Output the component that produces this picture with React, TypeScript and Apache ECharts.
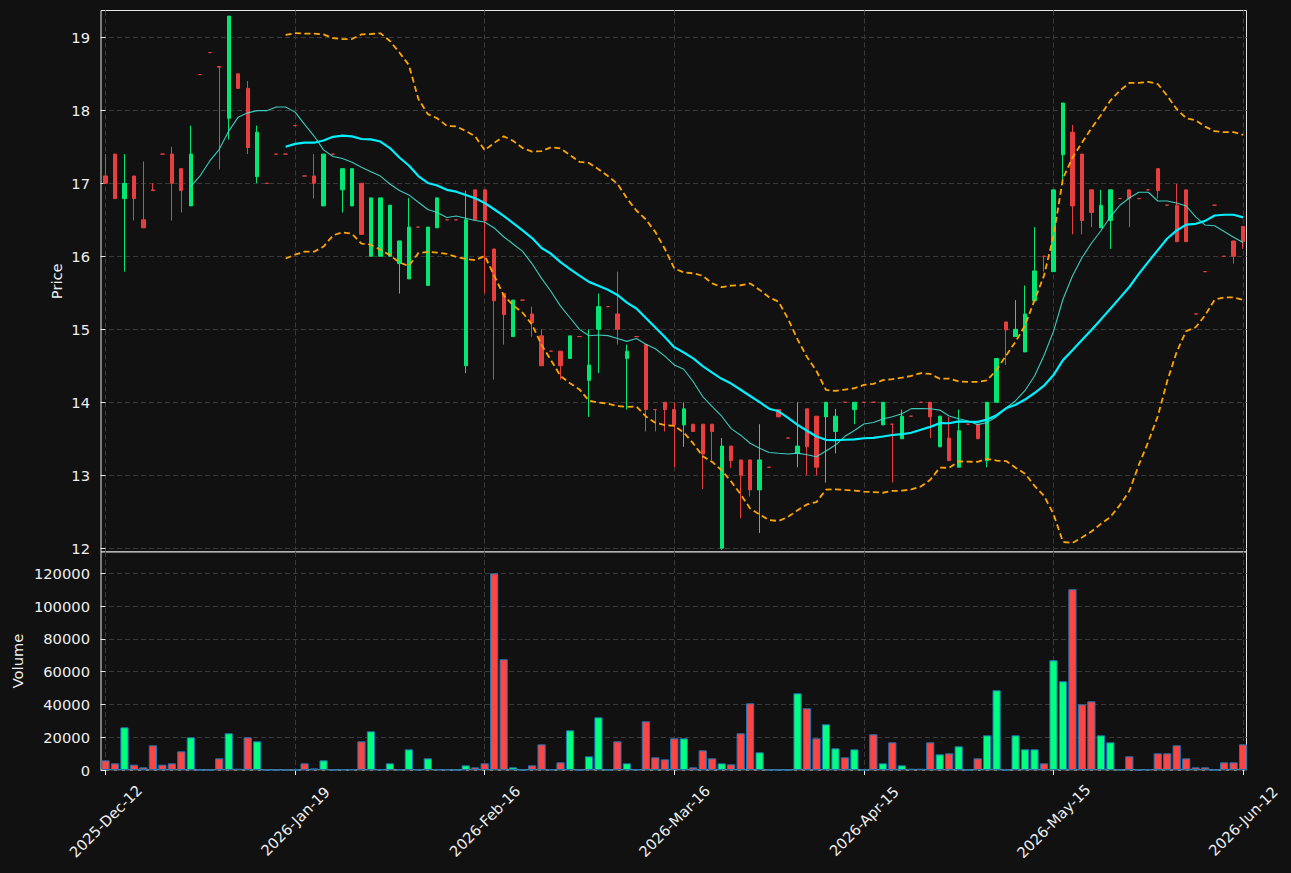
import React, { useEffect, useRef } from "react";
import * as echarts from "echarts";

// ---- data ----
const tickIndices = [0, 20, 40, 60, 80, 100, 120];
const tickLabels = ["2025-Dec-12", "2026-Jan-19", "2026-Feb-16", "2026-Mar-16", "2026-Apr-15", "2026-May-15", "2026-Jun-12"];
const priceTicks = [12, 13, 14, 15, 16, 17, 18, 19];
const volumeTicks = [0, 20000, 40000, 60000, 80000, 100000, 120000];

const opens = [
  17.10, 17.40, 16.79, 17.10, 16.50, 16.91, 17.40, 17.40, 17.20, 16.69,
  18.49, 18.79, 18.60, 17.89, 18.50, 18.30, 17.09, 17.00, 17.40, 17.40,
  17.79, 17.10, 17.10, 16.69, 17.40, 16.91, 16.69, 17.00, 16.00, 16.00,
  16.00, 15.90, 15.69, 16.40, 15.60, 16.39, 16.50, 16.50, 14.50, 16.91,
  16.91, 16.10, 15.49, 14.90, 15.40, 15.21, 14.91, 14.70, 14.70, 14.60,
  14.90, 14.30, 15.00, 15.31, 15.21, 14.60, 14.90, 14.79, 13.90, 14.00,
  13.90, 13.69, 13.70, 13.70, 13.70, 12.00, 13.40, 13.21, 13.21, 12.80,
  13.11, 13.90, 13.51, 13.30, 13.91, 13.81, 13.80, 13.60, 14.00, 13.90,
  14.00, 14.00, 13.69, 13.70, 13.50, 13.81, 14.00, 14.00, 13.39, 13.51,
  13.11, 13.70, 13.70, 13.20, 14.00, 15.10, 14.90, 14.69, 15.39, 16.00,
  15.79, 17.39, 17.70, 17.40, 16.91, 16.39, 16.49, 16.79, 16.91, 16.79,
  16.91, 17.20, 16.70, 16.70, 16.91, 15.21, 15.79, 16.70, 16.00, 16.21,
  16.41,
];
const closes = [
  17.00, 16.79, 17.00, 16.79, 16.39, 16.90, 17.40, 17.00, 16.90, 17.40,
  18.49, 18.79, 18.59, 19.29, 18.30, 17.49, 17.70, 17.00, 17.40, 17.40,
  17.79, 17.10, 17.00, 17.40, 17.40, 17.20, 17.20, 16.30, 16.80, 16.80,
  16.70, 16.21, 16.40, 16.40, 16.40, 16.80, 16.50, 16.50, 16.50, 16.50,
  16.49, 15.39, 15.20, 15.40, 15.40, 15.09, 14.50, 14.70, 14.50, 14.91,
  14.90, 14.51, 15.31, 15.31, 15.00, 14.70, 14.90, 13.90, 13.90, 13.90,
  13.69, 13.91, 13.60, 13.29, 13.60, 13.40, 13.20, 13.00, 12.80, 13.21,
  13.11, 13.80, 13.51, 13.40, 13.39, 13.11, 14.00, 13.81, 14.00, 14.00,
  14.00, 14.00, 14.00, 13.70, 13.81, 13.81, 14.00, 13.80, 13.81, 13.20,
  13.61, 13.70, 13.50, 14.00, 14.60, 14.99, 15.00, 15.21, 15.80, 16.00,
  16.91, 18.10, 16.69, 16.49, 16.60, 16.70, 16.91, 16.79, 16.79, 16.79,
  16.91, 16.90, 16.70, 16.20, 16.20, 15.21, 15.79, 16.70, 16.00, 16.00,
  16.20,
];
const lows = [
  17.00, 16.79, 15.79, 16.49, 16.39, 16.90, 17.40, 16.49, 16.60, 16.69,
  18.49, 18.79, 17.19, 17.60, 18.30, 17.40, 17.00, 17.00, 17.40, 17.40,
  17.79, 17.10, 16.79, 16.69, 17.40, 16.60, 16.69, 16.30, 16.00, 16.00,
  16.00, 15.49, 15.69, 16.40, 15.60, 16.39, 16.50, 16.50, 14.40, 16.50,
  15.49, 14.31, 14.79, 14.90, 15.40, 14.90, 14.50, 14.70, 14.31, 14.60,
  14.90, 13.80, 14.40, 15.31, 14.79, 13.90, 14.90, 13.60, 13.60, 13.60,
  13.11, 13.39, 13.60, 12.81, 13.21, 11.98, 13.10, 12.41, 12.71, 12.21,
  13.11, 13.80, 13.51, 13.11, 13.00, 13.00, 12.90, 13.30, 14.00, 13.70,
  14.00, 14.00, 13.69, 12.90, 13.50, 13.81, 14.00, 13.51, 13.39, 13.20,
  13.11, 13.70, 13.50, 13.11, 14.00, 14.51, 14.90, 14.69, 15.39, 15.79,
  15.79, 17.02, 16.30, 16.30, 16.40, 16.39, 16.10, 16.79, 16.40, 16.79,
  16.91, 16.79, 16.70, 16.20, 16.20, 15.21, 15.79, 16.70, 16.00, 15.90,
  16.10,
];
const highs = [
  17.40, 17.40, 17.40, 17.10, 17.30, 17.00, 17.40, 17.50, 17.20, 17.79,
  18.49, 18.79, 18.60, 19.29, 18.50, 18.40, 17.79, 17.00, 17.40, 17.40,
  17.79, 17.10, 17.40, 17.40, 17.40, 17.20, 17.20, 17.00, 16.80, 16.80,
  16.70, 16.21, 16.80, 16.40, 16.40, 16.80, 16.50, 16.50, 16.90, 16.91,
  16.91, 16.10, 15.49, 15.40, 15.40, 15.31, 15.00, 14.70, 14.70, 14.91,
  14.90, 15.00, 15.49, 15.31, 15.79, 14.79, 14.90, 14.79, 13.90, 14.00,
  14.00, 14.00, 13.70, 13.70, 13.70, 13.51, 13.40, 13.21, 13.21, 13.70,
  13.11, 13.90, 13.51, 14.00, 13.91, 13.81, 14.00, 13.91, 14.00, 14.00,
  14.00, 14.00, 14.00, 13.70, 13.90, 13.81, 14.00, 14.00, 13.81, 13.80,
  13.90, 13.70, 13.70, 14.00, 14.60, 15.10, 15.40, 15.60, 16.40, 16.00,
  16.91, 18.10, 17.80, 17.40, 16.91, 16.91, 16.91, 16.79, 16.91, 16.79,
  16.91, 17.20, 16.70, 16.99, 16.91, 15.21, 15.79, 16.70, 16.00, 16.21,
  16.41,
];
const volumes = [
  5900, 4070, 26050, 3260, 1630, 15060, 3260, 4070, 11400, 19940,
  0, 0, 7120, 22390, 810, 19940, 17500, 0, 0, 0,
  0, 4070, 1000, 5900, 0, 400, 400, 17500, 23600, 400,
  4070, 300, 12600, 200, 7120, 300, 300, 0, 2850, 1630,
  4070, 120000, 67560, 1630, 0, 2850, 15670, 300, 4680, 24220,
  0, 8340, 32150, 0, 17500, 4070, 300, 29710, 7730, 6510,
  19330, 19330, 1630, 12010, 7120, 4070, 3460, 22390, 40700, 10790,
  0, 0, 0, 46800, 37650, 19330, 27880, 13230, 7730, 12620,
  0, 21780, 4070, 16890, 2850, 800, 800, 16890, 9560, 10180,
  14450, 0, 7120, 21160, 48640, 0, 21160, 12620, 12620, 4070,
  66950, 54130, 110300, 40090, 41920, 21160, 16890, 0, 8340, 0,
  400, 10180, 10180, 15060, 7120, 1630, 1630, 0, 4680, 4680,
  15670,
];

// ---- styles ----
const BG = "#111111";
const FG = "#eeeeee";
const FRAME = "#e6e6e6";
const GRIDLINE = "#3a3a3a";
const UP_CANDLE = "#02e774";
const DOWN_CANDLE = "#e73f3f";
const UP_VOL = "#00ff7f";
const DOWN_VOL = "#ff4444";
const VOL_EDGE = "#1f77b4";
const FONT = "DejaVu Sans";
const FONT_SIZE = 14.7;

function sma(vals: number[], n: number): number[][] {
  const out: number[][] = [];
  for (let i = n - 1; i < vals.length; i++) {
    let s = 0;
    for (let k = i - n + 1; k <= i; k++) s += vals[k];
    out.push([i, s / n]);
  }
  return out;
}
function bands(vals: number[], n: number, mult: number): { up: number[][]; lo: number[][] } {
  const up: number[][] = [];
  const lo: number[][] = [];
  for (let i = n - 1; i < vals.length; i++) {
    let s = 0;
    for (let k = i - n + 1; k <= i; k++) s += vals[k];
    const m = s / n;
    let v = 0;
    for (let k = i - n + 1; k <= i; k++) v += (vals[k] - m) * (vals[k] - m);
    const sd = Math.sqrt(v / n);
    up.push([i, m + mult * sd]);
    lo.push([i, m - mult * sd]);
  }
  return { up, lo };
}

export default function App() {
  const ref = useRef<HTMLDivElement>(null);
  useEffect(() => {
    if (!ref.current) return;
    const chart = echarts.init(ref.current, null, { renderer: "svg" });

    const candleData = opens.map((o, i) => {
      const item: any = { value: [i, o, closes[i], lows[i], highs[i]] };
      if (o === closes[i]) {
        item.itemStyle = { color: DOWN_CANDLE, color0: DOWN_CANDLE, borderColor: DOWN_CANDLE, borderColor0: DOWN_CANDLE };
      }
      return item;
    });
    const volData = volumes.map((v, i) => ({
      value: [i, v],
      itemStyle: { color: closes[i] > opens[i] ? UP_VOL : DOWN_VOL },
    }));
    const ma10 = sma(closes, 10);
    const ma20 = sma(closes, 20);
    const bb = bands(closes, 20, 2);

    const xMin = -0.475;
    const xMax = 120.36;
    const splitLine = { show: true, lineStyle: { color: GRIDLINE, type: [5, 3], width: 1 } };
    const labelStyle = { color: FG, fontSize: FONT_SIZE, fontFamily: FONT };

    chart.setOption({
      animation: false,
      backgroundColor: BG,
      textStyle: { fontFamily: FONT },
      grid: [
        { left: 101, top: 10.5, width: 1145.5, height: 541.5, show: true, backgroundColor: BG, borderColor: FRAME, borderWidth: 1 },
        { left: 101, top: 552, width: 1145.5, height: 218, show: true, backgroundColor: BG, borderColor: FRAME, borderWidth: 1 },
      ],
      xAxis: [
        {
          type: "value", gridIndex: 0, min: xMin, max: xMax,
          axisLine: { show: false },
          axisTick: { show: false, customValues: tickIndices },
          axisLabel: { show: false, customValues: tickIndices },
          splitLine,
        },
        {
          type: "value", gridIndex: 1, min: xMin, max: xMax,
          axisLine: { show: false },
          axisTick: { show: true, customValues: tickIndices, length: 5, lineStyle: { color: FRAME } },
          axisLabel: {
            ...labelStyle, customValues: tickIndices, rotate: 45, margin: 51,
            align: "center", verticalAlign: "middle",
            formatter: (v: number) => tickLabels[tickIndices.indexOf(Math.round(v))] ?? "",
          },
          splitLine,
        },
      ],
      yAxis: [
        {
          type: "value", gridIndex: 0, min: 11.949, max: 19.367,
          name: "Price", nameLocation: "middle", nameGap: 37, nameMoveOverlap: false,
          nameTextStyle: { ...labelStyle },
          axisLine: { show: false },
          axisTick: { show: true, customValues: priceTicks, length: 5, lineStyle: { color: FRAME } },
          axisLabel: { ...labelStyle, customValues: priceTicks, margin: 11, formatter: (v: number) => String(v) },
          splitLine,
        },
        {
          type: "value", gridIndex: 1, min: 0, max: 133000,
          name: "Volume", nameLocation: "middle", nameGap: 76.5, nameMoveOverlap: false,
          nameTextStyle: { ...labelStyle },
          axisLine: { show: false },
          axisTick: { show: true, customValues: volumeTicks, length: 5, lineStyle: { color: FRAME } },
          axisLabel: { ...labelStyle, customValues: volumeTicks, margin: 11, formatter: (v: number) => String(v) },
          splitLine,
        },
      ],
      series: [
        {
          type: "candlestick", xAxisIndex: 0, yAxisIndex: 0,
          data: candleData,
          encode: { x: 0, y: [1, 2, 3, 4] },
          barWidth: 3.8,
          itemStyle: { color: UP_CANDLE, color0: DOWN_CANDLE, borderColor: UP_CANDLE, borderColor0: DOWN_CANDLE, borderWidth: 1 },
          z: 2,
        },
        {
          type: "line", xAxisIndex: 0, yAxisIndex: 0, data: ma10, showSymbol: false, symbol: "none",
          lineStyle: { color: "#40e0d0", width: 1.1, opacity: 0.9 }, z: 3,
        },
        {
          type: "line", xAxisIndex: 0, yAxisIndex: 0, data: ma20, showSymbol: false, symbol: "none",
          lineStyle: { color: "#00f0ff", width: 2.2 }, z: 4,
        },
        {
          type: "line", xAxisIndex: 0, yAxisIndex: 0, data: bb.up, showSymbol: false, symbol: "none",
          lineStyle: { color: "#ffa500", width: 1.8, type: [6, 3.5] }, z: 4,
        },
        {
          type: "line", xAxisIndex: 0, yAxisIndex: 0, data: bb.lo, showSymbol: false, symbol: "none",
          lineStyle: { color: "#ffa500", width: 1.8, type: [6, 3.5] }, z: 4,
        },
        {
          type: "bar", xAxisIndex: 1, yAxisIndex: 1, data: volData, barWidth: 8.2,
          itemStyle: { borderColor: VOL_EDGE, borderWidth: 1 },
        },
      ],
    });
    return () => chart.dispose();
  }, []);
  return (
    <div
      ref={ref}
      style={{ position: "fixed", left: 0, top: 0, width: 1291, height: 873, background: BG }}
    />
  );
}
